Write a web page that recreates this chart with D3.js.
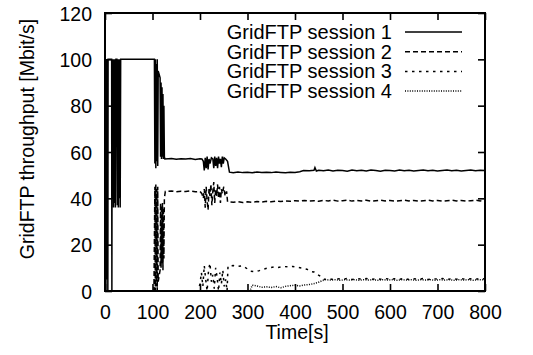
<!DOCTYPE html>
<html>
<head>
<meta charset="utf-8">
<script src="https://cdn.jsdelivr.net/npm/d3@7"></script>
<style>
  body { margin: 0; background: #fff; }
  svg text { font-family: "Liberation Sans", Arial, Helvetica, sans-serif; font-size: 19.5px; fill: #000; }
  svg .legend text { font-size: 20px; }
</style>
</head>
<body>
<div id="chartContainer"></div>
<script>
// [time s, throughput Mbit/s]
const session1 = [
  [0,0],[0.5,100],[1,20],[1.5,100],[2,0],[2.5,100],[3,50],[3.5,100],[4,5],[4.5,100],[5,30],[5.5,100],[6,0],[6.5,100],
  [14,100],[14.5,0],[15,100],[16,40],[17,100],[18,36],[19,100],[20,38],[21,100],[22,36],[23,100],[25,100],[26,37],
  [27,100],[28,36],[29,100],[30,40],[31,100],[32,36],[33,100],
  [97,100],[101,100],[104,100],[105,55],[106,100],[107,53],[108,98],[109,56],[110,100],[111,54],[112,95],
  [116,92],[117,58],[118,90],[119,57],[120,88],[121,58],[122,85],[123,57],[124,80],[125,58],[126,57],
  [140,57.2],[150,56.9],[160,57.1],[170,57],[180,57.2],[190,56.8],[200,57.1],
  [204,57],[207,56],[209,52],[211,57.5],[213,53],[215,58],[217,52.5],[219,57],[221,55],[224,57.5],[227,57],
  [229,53],[231,58],[233,54],[235,57.5],[237,53],[239,58],[241,55],[243,57],[245,53.5],[247,58],[249,55],
  [251,57.5],[254,57],[258,56],[262,51.3],
  [270,51.0],[280,51.4],[290,51.1],[300,51.3],[310,51.0],[320,51.4],[330,51.2],[340,51.3],[350,51.1],
  [360,51.4],[370,51.2],[380,51.0],[390,51.3],[400,51.2],[410,51.5],[418,52.0],[430,51.9],[440,52.1],
  [442,53.3],[445,51.8],[450,52.1],[460,51.9],[470,52.2],[480,51.8],[490,52.1],[500,52.0],[510,51.7],
  [520,52.2],[530,51.9],[540,52.1],[550,51.8],[560,52.2],[570,52.0],[580,51.7],[590,52.1],[600,52.0],
  [610,51.8],[620,52.2],[630,51.9],[640,52.1],[650,51.8],[660,52.0],[670,52.2],[680,51.9],[690,52.1],
  [700,51.8],[710,52.0],[720,52.2],[730,51.9],[740,52.1],[750,51.8],[760,52.0],[770,52.2],[780,51.9],
  [790,52.1],[800,52.0]
];

const session2 = [
  [0,0],[103,0],[105,45],[106,0],[107,46],[108,2],[109,44],[110,0],[111,45],[112,4],
  [116,9],[117,38],[118,10],[119,37],[120,12],[121,38],[122,9],[123,36],[124,14],[125,40],[127,43],
  [140,43.2],[150,42.8],[160,43.1],[170,42.9],[180,43.2],[190,42.8],[200,43],
  [204,42],[207,40],[209,44],[211,36],[213,45],[215,39],[217,35],[219,44],[221,41],[223,46],[225,37],
  [227,43],[229,47],[231,38],[233,44],[235,41],[237,46],[239,40],[241,45],[243,38],[245,44],[247,42],
  [250,45],[253,41],[256,43],[258,38.5],
  [270,38.3],[280,38.6],[290,38.2],[300,38.5],[310,38.3],[320,38.6],[330,38.4],[340,38.7],[350,38.5],
  [360,38.8],[370,38.6],[380,38.9],[390,38.7],[400,39.0],[410,38.8],[420,39.1],[430,38.8],[440,39.0],
  [450,38.7],[460,39.1],[470,38.9],[480,39.2],[490,38.8],[500,39.0],[510,39.2],[520,38.8],[530,39.1],
  [540,38.9],[550,39.2],[560,38.8],[570,39.0],[580,39.2],[590,38.9],[600,39.1],[610,38.8],[620,39.0],
  [630,39.2],[640,38.9],[650,39.1],[660,38.8],[670,39.0],[680,39.2],[690,38.9],[700,39.1],[710,38.8],
  [720,39.0],[730,39.2],[740,38.9],[750,39.1],[760,38.8],[770,39.0],[780,39.2],[790,38.9],[800,39.0]
];

const session3 = [
  [0,0],[195,0],[200,3],[203,8],[206,2],[209,11],[212,5],[215,0],[218,9],[221,12],[224,4],[227,7],
  [230,1],[233,10],[236,6],[239,0],[242,8],[245,3],[248,9],[251,2],[254,5],[257,0],[259,10.8],
  [270,11.0],[280,10.7],[290,10.9],[300,9.5],[305,8.6],[315,8.3],[325,8.8],[335,9.5],[345,10.0],
  [355,10.4],[365,10.2],[375,10.6],[385,10.4],[395,10.6],[405,10.2],[415,9.9],[425,9.4],[432,8.5],
  [440,8.2],[448,7.0],[455,6.2],[462,5.0],[470,5.3],[480,5.0],[490,5.3],[500,5.1],[510,5.4],[520,5.0],
  [530,5.3],[540,5.1],[550,5.4],[560,5.0],[570,5.3],[580,5.1],[590,5.4],[600,5.0],[610,5.3],[620,5.1],
  [630,5.4],[640,5.0],[650,5.3],[660,5.1],[670,5.4],[680,5.0],[690,5.3],[700,5.1],[710,5.4],[720,5.0],
  [730,5.3],[740,5.1],[750,5.4],[760,5.0],[770,5.3],[780,5.1],[790,5.4],[800,5.2]
];

const session4 = [
  [0,0],[305,0],[310,2.5],[320,2.2],[330,1.6],[340,1.8],[350,1.5],[360,1.9],[370,1.4],[380,2.0],
  [390,2.3],[400,2.5],[410,2.2],[420,2.6],[430,2.8],[440,3.2],[450,3.8],[458,4.5],[465,4.9],[475,4.7],
  [485,4.9],[495,4.6],[505,4.9],[515,4.7],[525,4.9],[535,4.6],[545,4.9],[555,4.7],[565,4.9],[575,4.6],
  [585,4.9],[595,4.7],[605,4.9],[615,4.6],[625,4.9],[635,4.7],[645,4.9],[655,4.6],[665,4.9],[675,4.7],
  [685,4.9],[695,4.6],[705,4.9],[715,4.7],[725,4.9],[735,4.6],[745,4.9],[755,4.7],[765,4.9],[775,4.6],
  [785,4.9],[800,4.8]
];

const seriesNames = ["GridFTP session 1", "GridFTP session 2", "GridFTP session 3", "GridFTP session 4"];
const xTicks = [0, 100, 200, 300, 400, 500, 600, 700, 800];
const yTicks = [0, 20, 40, 60, 80, 100, 120];

let svgChart, x, y;

function drawChart() {
    const margin = { top: 13, right: 48, bottom: 64, left: 105 },
          width = 533 - margin.left - margin.right,
          height = 355 - margin.top - margin.bottom;

    const svg = d3.select("#chartContainer").append("svg")
        .attr("width", 533)
        .attr("height", 355);

    svgChart = svg.append("g")
        .attr("transform", `translate(${margin.left},${margin.top})`);

    x = d3.scaleLinear().domain([0, 800]).range([0, width]);
    y = d3.scaleLinear().domain([0, 120]).range([height, 0]);

    // ticks point inward and are mirrored on top / right, gnuplot style
    const tickLen = -7;
    const xAxis = svgChart.append("g")
        .attr("transform", `translate(0,${height})`)
        .call(d3.axisBottom(x).tickValues(xTicks).tickSizeInner(tickLen).tickSizeOuter(0).tickPadding(14));
    const yAxis = svgChart.append("g")
        .call(d3.axisLeft(y).tickValues(yTicks).tickSizeInner(tickLen).tickSizeOuter(0).tickPadding(13));
    const xTop = svgChart.append("g")
        .call(d3.axisTop(x).tickValues(xTicks).tickSizeInner(tickLen).tickSizeOuter(0).tickFormat(""));
    const yRight = svgChart.append("g")
        .attr("transform", `translate(${width},0)`)
        .call(d3.axisRight(y).tickValues(yTicks).tickSizeInner(tickLen).tickSizeOuter(0).tickFormat(""));

    [xAxis, yAxis, xTop, yRight].forEach(ax => {
        ax.select(".domain").remove();
        ax.selectAll(".tick line").attr("stroke", "#000").attr("stroke-width", 1.6);
        ax.selectAll("text").attr("font-family", null).attr("font-size", null);
    });
    yAxis.selectAll("text").attr("dy", "0.36em");

    // data lines
    const dashes = [null, "5,3", "2.5,4.5", "1,1.4"];
    const lineFunction = d3.line()
        .x(d => x(d[0]))
        .y(d => y(d[1]));

    [session1, session2, session3, session4].forEach((data, i) => {
        svgChart.append("path")
            .datum(data)
            .attr("class", "line")
            .attr("d", lineFunction)
            .attr("fill", "none")
            .attr("stroke", "#000")
            .attr("stroke-width", 1.5)
            .attr("stroke-dasharray", dashes[i]);
    });

    // frame
    svgChart.append("rect")
        .attr("width", width)
        .attr("height", height)
        .attr("fill", "none")
        .attr("stroke", "#000")
        .attr("stroke-width", 2);

    // legend
    const legend = svg.append("g").attr("class", "legend");
    seriesNames.forEach((name, i) => {
        const ly = 32 + i * 19.7;
        legend.append("text")
            .attr("x", 392)
            .attr("y", ly + 7)
            .attr("text-anchor", "end")
            .text(name);
        legend.append("line")
            .attr("x1", 405).attr("x2", 462)
            .attr("y1", ly).attr("y2", ly)
            .attr("stroke", "#000")
            .attr("stroke-width", 1.5)
            .attr("stroke-dasharray", dashes[i]);
    });

    // axis titles
    svg.append("text")
        .attr("x", 297)
        .attr("y", 339)
        .attr("text-anchor", "middle")
        .text("Time[s]");

    svg.append("text")
        .attr("transform", "translate(34,139) rotate(-90)")
        .attr("text-anchor", "middle")
        .text("GridFTP throughput [Mbit/s]");
}

document.addEventListener("DOMContentLoaded", drawChart);
</script>
</body>
</html>
